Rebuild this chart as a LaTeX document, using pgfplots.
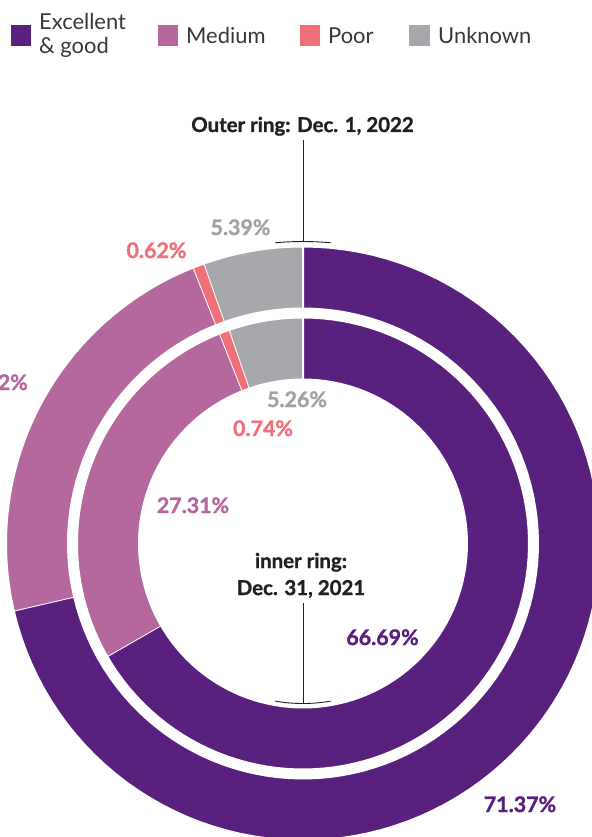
\documentclass[border=0pt]{standalone}
\usepackage{pgfplots}
\pgfplotsset{compat=1.18}
\usepackage{fontspec}
\setmainfont{Lato}
\newfontfamily\heavy{Lato}[UprightFeatures={FakeBold=1.2}, BoldFeatures={FakeBold=1.2}]
\definecolor{cExc}{RGB}{89,32,125}
\definecolor{cMed}{RGB}{181,104,158}
\definecolor{cPoor}{RGB}{240,112,122}
\definecolor{cUnk}{RGB}{167,168,172}
\definecolor{cUnkTxt}{RGB}{160,161,166}
\definecolor{cTxt}{RGB}{35,31,32}
\definecolor{cLeg}{RGB}{55,55,55}
% #1 colour, #2 start (percent), #3 share (percent), #4 inner radius, #5 outer radius
\newcommand{\seg}[5]{%
\addplot[fill=#1, draw=white, line width=2pt, line join=round, variable=\t, domain=0:1, samples=201, forget plot]
 ({303+((\t<0.5)?(#5):(#4))*cos(90-3.6*((#2)+(#3)*((\t<0.5)?(min(1,\t/0.475)):(1-max(0,(\t-0.525)/0.475)))))},
  {543.5-((\t<0.5)?(#5):(#4))*sin(90-3.6*((#2)+(#3)*((\t<0.5)?(min(1,\t/0.475)):(1-max(0,(\t-0.525)/0.475)))))});
}
\begin{document}
\begin{tikzpicture}
\useasboundingbox (0,0) rectangle (592bp,837bp);
\clip (0,0) rectangle (592bp,837bp);
\begin{axis}[at={(0,0)}, anchor=south west, scale only axis,
  width=592bp, height=837bp, xmin=0, xmax=592, ymin=0, ymax=837,
  y dir=reverse, hide axis, clip=false]
% outer ring: Dec. 1, 2022
\seg{cExc}{0}{71.37}{235}{297}
\seg{cMed}{71.37}{22.62}{235}{297}
\seg{cPoor}{71.37+22.62}{0.62}{235}{297}
\seg{cUnk}{71.37+22.62+0.62}{5.39}{235}{297}
% inner ring: Dec. 31, 2021
\seg{cExc}{0}{66.69}{164}{226}
\seg{cMed}{66.69}{27.31}{164}{226}
\seg{cPoor}{66.69+27.31}{0.74}{164}{226}
\seg{cUnk}{66.69+27.31+0.74}{5.26}{164}{226}
% annotation brackets
\addplot[cTxt, line width=0.9pt, domain=84.7:95.3, samples=20, forget plot] ({303+302*cos(x)},{543.5-302*sin(x)});
\addplot[cTxt, line width=0.9pt, domain=260:280, samples=20, forget plot] ({303+160*cos(x)},{543.5-160*sin(x)});
\draw[cTxt, line width=0.9pt] (axis cs:303,140) -- (axis cs:303,241.5);
\draw[cTxt, line width=0.9pt] (axis cs:303,603) -- (axis cs:303,703.5);
% legend
\fill[cExc] (axis cs:11,25) rectangle (axis cs:31,46);
\fill[cMed] (axis cs:158,25) rectangle (axis cs:178,46);
\fill[cPoor] (axis cs:300,25) rectangle (axis cs:320,46);
\fill[cUnk] (axis cs:409,25) rectangle (axis cs:430,46);
\begin{scope}[every node/.style={inner sep=0pt, text=cLeg, font=\fontsize{22}{26}\selectfont}]
\node[anchor=base west] at (axis cs:39,30) {Excellent};
\node[anchor=base west] at (axis cs:39,54) {\& good};
\node[anchor=base west] at (axis cs:186,44) {Medium};
\node[anchor=base west] at (axis cs:328,44) {Poor};
\node[anchor=base west] at (axis cs:438,44) {Unknown};
\end{scope}
% value labels
\begin{scope}[every node/.style={inner sep=0pt, anchor=base, font=\fontsize{20.5}{24}\selectfont\heavy\bfseries}]
\node[text=cTxt] at (axis cs:302.5,132) {Outer ring: Dec. 1, 2022};
\node[text=cTxt] at (axis cs:301,568) {inner ring:};
\node[text=cTxt] at (axis cs:301,595) {Dec. 31, 2021};
\end{scope}
\begin{scope}[every node/.style={inner sep=0pt, anchor=base, font=\fontsize{21.5}{24}\selectfont\heavy\bfseries}]
\node[text=cUnkTxt] at (axis cs:240.5,235) {5.39\%};
\node[text=cPoor] at (axis cs:156.5,258) {0.62\%};
\node[text=cMed, anchor=base east] at (axis cs:28,390) {22.62\%};
\node[text=cUnkTxt] at (axis cs:297,407) {5.26\%};
\node[text=cPoor] at (axis cs:263,436) {0.74\%};
\node[text=cMed] at (axis cs:193,513) {27.31\%};
\node[text=cExc] at (axis cs:382.5,645) {66.69\%};
\node[text=cExc] at (axis cs:520,812) {71.37\%};
\end{scope}
\end{axis}
\end{tikzpicture}
\end{document}
